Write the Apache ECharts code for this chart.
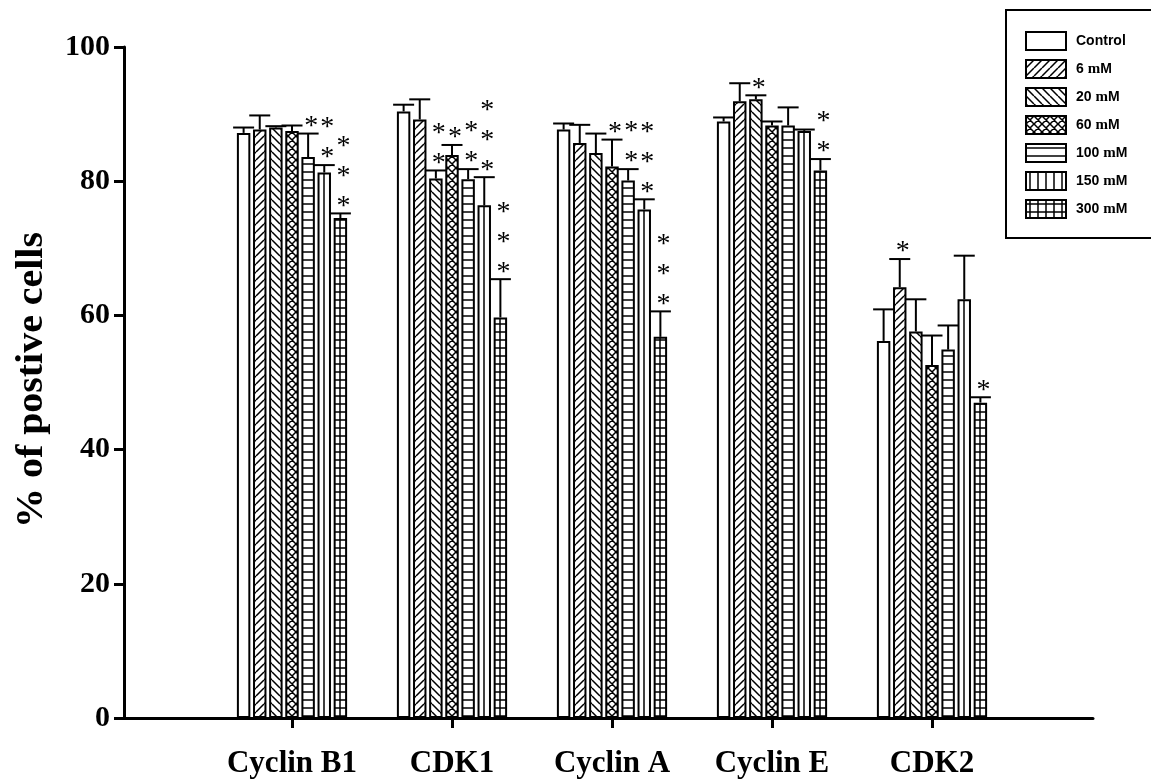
<!DOCTYPE html>
<html>
<head>
<meta charset="utf-8">
<script src="https://cdn.jsdelivr.net/npm/echarts@6/dist/echarts.min.js"></script>
<style>
html,body{margin:0;padding:0;background:#fff;}
#main{width:1151px;height:782px;}
</style>
</head>
<body>
<div id="main"></div>
<script>
// ---------- data ----------
var categories = ['Cyclin B1', 'CDK1', 'Cyclin A', 'Cyclin E', 'CDK2'];
var seriesNames = ['Control', '6 mM', '20 mM', '60 mM', '100 mM', '150 mM', '300 mM'];
var yTicks = [0, 20, 40, 60, 80, 100];

var valControl = [87.2, 90.4, 87.7, 88.9, 56.2];
var val6   = [87.7, 89.2, 85.7, 91.9, 64.2];
var val20  = [88.0, 80.4, 84.2, 92.2, 57.6];
var val60  = [87.5, 83.9, 82.2, 88.3, 52.6];
var val100 = [83.6, 80.3, 80.1, 88.3, 54.9];
var val150 = [81.3, 76.4, 75.8, 87.5, 62.4];
var val300 = [74.5, 59.7, 56.8, 81.6, 47.0];

var errControl = [0.8, 1.0, 0.9, 0.6, 4.7];
var err6   = [2.1, 3.0, 2.7, 2.7, 4.2];
var err20  = [0.2, 1.2, 2.9, 0.6, 4.8];
var err60  = [0.8, 1.5, 4.0, 0.6, 4.4];
var err100 = [3.5, 1.5, 1.7, 2.7, 3.6];
var err150 = [1.1, 4.2, 1.5, 0.2, 6.5];
var err300 = [0.7, 5.7, 3.8, 1.7, 0.8];

var starsControl = [0, 0, 0, 0, 0];
var stars6   = [0, 0, 0, 0, 1];
var stars20  = [0, 2, 0, 1, 0];
var stars60  = [0, 1, 1, 0, 0];
var stars100 = [1, 2, 2, 0, 0];
var stars150 = [2, 3, 3, 0, 0];
var stars300 = [3, 3, 3, 2, 1];

var allVals = [valControl, val6, val20, val60, val100, val150, val300];
var allErrs = [errControl, err6, err20, err60, err100, err150, err300];
var allStars = [starsControl, stars6, stars20, stars60, stars100, stars150, stars300];
var patternTypes = ['none', 'fwd', 'back', 'cross', 'horiz', 'vert', 'grid'];

// ---------- patterns ----------
function makePattern(type) {
  var s = 8;
  var c = document.createElement('canvas');
  c.width = s; c.height = s;
  var g = c.getContext('2d');
  g.fillStyle = '#fff';
  g.fillRect(0, 0, s, s);
  g.strokeStyle = '#000';
  g.lineWidth = 1.5;
  g.beginPath();
  var k;
  if (type === 'fwd' || type === 'cross') {
    for (k = -s; k <= s; k += s) { g.moveTo(k, s); g.lineTo(k + s, 0); }
  }
  if (type === 'back' || type === 'cross') {
    for (k = -s; k <= s; k += s) { g.moveTo(k, 0); g.lineTo(k + s, s); }
  }
  if (type === 'horiz' || type === 'grid') {
    g.moveTo(0, s / 2); g.lineTo(s, s / 2);
  }
  if (type === 'vert' || type === 'grid') {
    g.moveTo(s / 2, 0); g.lineTo(s / 2, s);
  }
  g.stroke();
  return { image: c, repeat: 'repeat' };
}

var BAR_W = 0.084;   // fraction of band
var BAR_GAP = 0.2;   // fraction of bar width

var series = [];
seriesNames.forEach(function (name, i) {
  series.push({
    name: name,
    type: 'bar',
    xAxisIndex: 1,
    yAxisIndex: 1,
    barWidth: (BAR_W * 100) + '%',
    barGap: (BAR_GAP * 100) + '%',
    itemStyle: {
      color: patternTypes[i] === 'none' ? '#fff' : makePattern(patternTypes[i]),
      borderColor: '#000',
      borderWidth: 2
    },
    emphasis: { disabled: true },
    data: allVals[i]
  });
});

// error bars + asterisks
var errData = [];
for (var si = 0; si < seriesNames.length; si++) {
  for (var ci = 0; ci < categories.length; ci++) {
    errData.push([ci, si, allVals[si][ci], allErrs[si][ci], allStars[si][ci]]);
  }
}
series.push({
  type: 'custom',
  name: 'errors',
  xAxisIndex: 1,
  yAxisIndex: 1,
  z: 5,
  silent: true,
  data: errData,
  renderItem: function (params, api) {
    var cat = api.value(0), sIdx = api.value(1), v = api.value(2), e = api.value(3), n = api.value(4);
    var band = api.size([1, 0])[0];
    var w = band * BAR_W;
    var pitch = w * (1 + BAR_GAP);
    var p = api.coord([cat, v]);
    var t = api.coord([cat, v + e]);
    var x = p[0] + (sIdx - (seriesNames.length - 1) / 2) * pitch;
    var children = [
      { type: 'line', shape: { x1: x, y1: p[1], x2: x, y2: t[1] }, style: { stroke: '#000', lineWidth: 2 } },
      { type: 'line', shape: { x1: x - 10.5, y1: t[1], x2: x + 10.5, y2: t[1] }, style: { stroke: '#000', lineWidth: 2 } }
    ];
    for (var k = 0; k < n; k++) {
      children.push({
        type: 'text',
        x: x + 3,
        y: t[1] - 7 - 30 * k,
        style: {
          text: '*',
          fill: '#000',
          font: '28px "Liberation Serif"',
          align: 'center',
          verticalAlign: 'middle'
        }
      });
    }
    return { type: 'group', children: children };
  }
});

var chart = echarts.init(document.getElementById('main'));
chart.setOption({
  animation: false,
  backgroundColor: '#fff',
  grid: [
    { left: 124, top: 47, width: 969, height: 671 },
    { left: 212, top: 47, width: 800, height: 671 }
  ],
  xAxis: [
    {
      type: 'value', gridIndex: 0, min: 0, max: 1,
      axisLine: { show: true, lineStyle: { color: '#000', width: 3 } },
      axisTick: { show: false }, axisLabel: { show: false }, splitLine: { show: false }
    },
    {
      type: 'category', gridIndex: 1, data: categories,
      axisLine: { show: false },
      axisTick: { show: true, alignWithLabel: true, interval: 0, length: 10, lineStyle: { color: '#000', width: 3 } },
      axisLabel: { interval: 0, color: '#000', fontFamily: 'Liberation Serif', fontWeight: 'bold', fontSize: 31, margin: 30 },
      splitLine: { show: false }
    }
  ],
  yAxis: [
    {
      type: 'value', gridIndex: 0, min: yTicks[0], max: yTicks[yTicks.length - 1], interval: yTicks[1] - yTicks[0],
      axisLine: { show: true, lineStyle: { color: '#000', width: 3 } },
      axisTick: { show: true, length: 10, lineStyle: { color: '#000', width: 3 } },
      axisLabel: { color: '#000', fontFamily: 'Liberation Serif', fontWeight: 'bold', fontSize: 30, margin: 14 },
      splitLine: { show: false }
    },
    {
      type: 'value', gridIndex: 1, min: yTicks[0], max: yTicks[yTicks.length - 1],
      show: false, splitLine: { show: false }
    }
  ],
  legend: {
    data: seriesNames,
    orient: 'vertical',
    left: 1006,
    top: 10,
    itemWidth: 40,
    itemHeight: 18,
    itemGap: 8,
    padding: [21, 60, 19, 19],
    borderColor: '#000',
    borderWidth: 2,
    backgroundColor: '#fff',
    icon: 'rect',
    selectedMode: false,
    formatter: function (name) {
      return name.replace(' mM', ' {m|m}M');
    },
    textStyle: {
      color: '#000', fontFamily: 'Liberation Sans', fontWeight: 'bold', fontSize: 14,
      padding: [0, 0, 0, 5],
      rich: { m: { color: '#000', fontFamily: 'Liberation Serif', fontWeight: 'bold', fontSize: 15 } }
    }
  },
  graphic: [
    {
      type: 'text',
      x: 32,
      y: 380,
      rotation: Math.PI / 2,
      scaleX: 1.05,
      style: {
        text: '% of postive cells',
        fill: '#000',
        font: 'bold 38px "Liberation Serif"',
        align: 'center',
        verticalAlign: 'middle'
      }
    }
  ],
  series: series
});
</script>
</body>
</html>
